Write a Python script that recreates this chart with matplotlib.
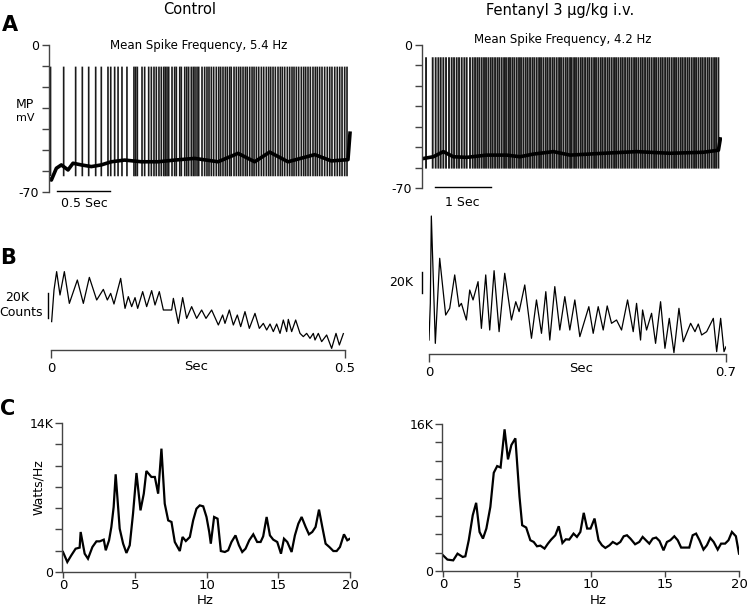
import numpy as np
import matplotlib
matplotlib.use('Agg')
import matplotlib.pyplot as plt

# ---------------- DATA ----------------
# Panel A: membrane potential traces (spike times in s, baseline samples in mV)
ctrl_spike_t = [0.005, 0.129, 0.242, 0.305, 0.365, 0.431, 0.484, 0.547, 0.573, 0.610, 0.642,
                0.679, 0.726, 0.792, 0.808, 0.824, 0.868, 0.893, 0.931, 0.956, 0.981,
                1.003, 1.028, 1.050, 1.073, 1.088, 1.104, 1.120, 1.151, 1.176, 1.192,
                1.224, 1.239, 1.271, 1.290, 1.308, 1.333, 1.352, 1.368, 1.387, 1.403,
                1.434, 1.459, 1.481, 1.500, 1.522, 1.544, 1.569, 1.592, 1.610, 1.632,
                1.654, 1.673, 1.695, 1.710, 1.736, 1.758, 1.780, 1.799, 1.821, 1.843,
                1.861, 1.884, 1.906, 1.925, 1.947, 1.969, 1.994, 2.016, 2.041, 2.063,
                2.082, 2.104, 2.126, 2.151, 2.173, 2.192, 2.214, 2.239, 2.261, 2.283,
                2.302, 2.324, 2.346, 2.371, 2.393, 2.412, 2.434, 2.456, 2.481, 2.503,
                2.522, 2.544, 2.566, 2.591, 2.616, 2.639, 2.660, 2.686, 2.710, 2.733,
                2.755, 2.780, 2.802]
ctrl_peak = -10.3
ctrl_trough = -62.5
ctrl_base_t = [0.0, 0.013, 0.060, 0.107, 0.170, 0.217, 0.296, 0.390, 0.484, 0.579, 0.704,
               0.862, 1.019, 1.176, 1.365, 1.585, 1.774, 1.931, 2.072, 2.245, 2.497,
               2.654, 2.811, 2.830]
ctrl_base_v = [-64.0, -64.3, -58.7, -57.1, -59.5, -56.3, -57.1, -57.9, -57.1, -55.6, -54.8,
               -55.6, -55.6, -54.8, -54.0, -55.6, -51.6, -55.6, -51.0, -55.6, -52.2,
               -55.2, -54.6, -42.0]

fent_spike_t = [0.036, 0.155, 0.208, 0.256, 0.298, 0.345, 0.393, 0.446, 0.494, 0.536,
                0.583, 0.625, 0.673, 0.720, 0.762, 0.821, 0.869, 0.911, 0.952, 0.988,
                1.030, 1.071, 1.107, 1.149, 1.190, 1.226, 1.268, 1.310, 1.345, 1.387,
                1.429, 1.464, 1.506, 1.536, 1.577, 1.613, 1.655, 1.696, 1.732, 1.774,
                1.815, 1.851, 1.893, 1.935, 1.970, 2.012, 2.054, 2.089, 2.131, 2.173,
                2.208, 2.250, 2.292, 2.327, 2.369, 2.411, 2.446, 2.488, 2.530, 2.565,
                2.607, 2.637, 2.679, 2.714, 2.756, 2.798, 2.833, 2.875, 2.917, 2.952,
                2.994, 3.036, 3.071, 3.113, 3.155, 3.190, 3.232, 3.274, 3.310, 3.351,
                3.393, 3.429, 3.470, 3.512, 3.548, 3.589, 3.631, 3.667, 3.708, 3.750,
                3.786, 3.827, 3.869, 3.905, 3.946, 3.988, 4.024, 4.065, 4.107, 4.143,
                4.185, 4.226, 4.262, 4.304, 4.345, 4.381, 4.423, 4.464, 4.500, 4.542,
                4.583, 4.619, 4.661, 4.702, 4.738, 4.780, 4.821, 4.857, 4.899, 4.940,
                4.976, 5.018, 5.060, 5.095, 5.137, 5.179, 5.214, 5.256]
fent_peak = -6.0
fent_trough = -60.5
fent_base_t = [0.0, 0.167, 0.345, 0.524, 0.762, 1.119, 1.476, 1.714, 1.952, 2.310, 2.607,
               3.202, 3.798, 4.393, 4.988, 5.256, 5.290]
fent_base_v = [-55.5, -54.7, -52.2, -54.7, -55.0, -53.9, -53.9, -54.7, -53.4, -52.2, -53.9,
               -53.0, -52.2, -53.0, -52.5, -51.5, -46.0]

# Panel B: autocorrelograms (time in s, counts in K above axis line)
ctrl_ac_t = [0.0011, 0.0051, 0.0096, 0.0153, 0.0227, 0.0312, 0.0448, 0.0550, 0.0652, 0.0777,
             0.0890, 0.0958, 0.1015, 0.1071, 0.1185, 0.1259, 0.1315, 0.1372, 0.1429, 0.1474,
             0.1559, 0.1627, 0.1712, 0.1769, 0.1842, 0.1911, 0.2052, 0.2081, 0.2166, 0.2239,
             0.2307, 0.2392, 0.2477, 0.2562, 0.2636, 0.2732, 0.2846, 0.2919, 0.2959, 0.3033,
             0.3101, 0.3169, 0.3226, 0.3299, 0.3373, 0.3469, 0.3543, 0.3611, 0.3668, 0.3725,
             0.3781, 0.3838, 0.3895, 0.3951, 0.4008, 0.4036, 0.4093, 0.4161, 0.4235, 0.4291,
             0.4348, 0.4405, 0.4461, 0.4490, 0.4546, 0.4603, 0.4688, 0.4773, 0.4847, 0.4904,
             0.4972]
ctrl_ac_k = [22.7, 48.0, 62.7, 44.0, 62.7, 37.3, 56.0, 37.3, 58.1, 40.0,
             48.5, 40.0, 45.3, 36.8, 57.3, 33.3, 42.7, 34.7, 41.9, 33.3,
             46.7, 34.7, 47.5, 36.0, 46.7, 32.0, 32.0, 41.3, 21.3, 41.9,
             25.3, 34.7, 25.3, 32.0, 25.3, 32.0, 20.0, 28.0, 21.3, 32.0,
             20.0, 28.0, 18.7, 30.7, 17.3, 29.3, 17.3, 21.3, 16.0, 20.8,
             14.7, 20.8, 13.3, 24.0, 14.7, 24.5, 14.7, 24.0, 13.3, 10.7,
             13.3, 9.3, 13.3, 8.0, 13.3, 6.7, 12.0, 1.3, 13.3, 4.0,
             13.1]

fent_ac_t = [0.0000, 0.0031, 0.0055, 0.0149, 0.0252, 0.0393, 0.0488, 0.0606, 0.0708, 0.0763,
             0.0881, 0.0960, 0.1038, 0.1156, 0.1235, 0.1337, 0.1431, 0.1534, 0.1652, 0.1785,
             0.1943, 0.2045, 0.2124, 0.2257, 0.2415, 0.2533, 0.2651, 0.2753, 0.2847, 0.2965,
             0.3083, 0.3201, 0.3319, 0.3437, 0.3555, 0.3767, 0.3870, 0.3988, 0.4106, 0.4200,
             0.4302, 0.4420, 0.4538, 0.4680, 0.4813, 0.4892, 0.4986, 0.5034, 0.5128, 0.5246,
             0.5340, 0.5458, 0.5561, 0.5663, 0.5773, 0.5891, 0.5993, 0.6166, 0.6269, 0.6347,
             0.6426, 0.6544, 0.6701, 0.6780, 0.6874, 0.6953, 0.7000]
fent_ac_k = [13.5, 49.0, 133.5, 10.3, 92.6, 37.7, 44.2, 76.5, 45.8, 49.0,
             32.9, 61.9, 52.3, 70.0, 24.8, 76.5, 23.2, 80.6, 21.6, 78.1,
             32.9, 50.6, 41.0, 66.8, 15.2, 52.3, 20.0, 60.3, 13.5, 65.2,
             23.2, 55.5, 23.2, 52.3, 16.8, 45.8, 20.0, 45.8, 23.2, 46.5,
             29.7, 32.9, 23.2, 52.3, 21.6, 49.0, 13.5, 42.6, 23.2, 39.4,
             10.3, 50.6, 5.5, 34.5, 1.3, 44.2, 11.9, 29.7, 21.6, 29.0,
             18.4, 21.6, 34.5, 2.3, 34.5, 2.3, 7.1]

# Panel C: power spectra (Hz, power in K Watts/Hz)
ctrl_hz = [0.00, 0.30, 0.58, 0.88, 1.16, 1.23, 1.51, 1.74, 2.05, 2.33, 2.56, 2.84, 2.98,
           3.21, 3.37, 3.53, 3.67, 3.84, 3.95, 4.19, 4.42, 4.65, 4.88, 5.12, 5.40, 5.63,
           5.81, 6.16, 6.40, 6.63, 6.86, 7.09, 7.33, 7.56, 7.79, 8.14, 8.33, 8.56, 8.84,
           9.07, 9.30, 9.53, 9.77, 10.00, 10.19, 10.30, 10.53, 10.77, 11.00, 11.28, 11.51,
           11.74, 12.02, 12.26, 12.49, 12.72, 12.98, 13.26, 13.53, 13.77, 13.95, 14.19,
           14.42, 14.65, 14.93, 15.19, 15.40, 15.63, 15.93, 16.16, 16.40, 16.63, 16.91,
           17.14, 17.37, 17.60, 17.84, 18.07, 18.30, 18.56, 18.84, 19.07, 19.30, 19.58,
           19.81, 20.00]
ctrl_pow = [1.88, 0.94, 1.57, 2.19, 2.29, 3.76, 1.72, 1.25, 2.35, 2.88, 2.88, 3.04, 2.04,
            2.98, 4.23, 6.11, 9.18, 6.11, 4.07, 2.66, 1.79, 2.51, 5.48, 9.30, 5.79, 7.36,
            9.49, 8.93, 8.93, 7.36, 11.59, 6.42, 4.85, 4.70, 2.82, 1.97, 3.29, 2.91, 3.29,
            4.85, 5.95, 6.26, 6.17, 5.17, 3.76, 2.66, 5.17, 5.01, 1.97, 1.88, 2.04,
            2.82, 3.44, 2.51, 1.88, 2.19, 2.98, 3.54, 2.82, 2.82, 3.35, 5.17,
            3.44, 3.04, 2.82, 1.72, 3.13, 2.82, 1.88, 3.44, 4.54, 5.17, 4.23,
            3.54, 3.76, 4.23, 5.86, 4.23, 2.66, 2.35, 1.97, 1.97, 2.35, 3.54,
            2.98, 3.13]

fent_hz = [0.00, 0.30, 0.69, 0.98, 1.33, 1.51, 1.74, 2.01, 2.24, 2.47, 2.70, 2.93, 3.20,
           3.43, 3.66, 3.89, 4.16, 4.39, 4.62, 4.89, 5.17, 5.35, 5.62, 5.90, 6.13, 6.35,
           6.58, 6.86, 7.09, 7.31, 7.59, 7.82, 8.07, 8.30, 8.53, 8.82, 9.05, 9.28, 9.51,
           9.74, 9.97, 10.24, 10.51, 10.74, 10.97, 11.25, 11.47, 11.75, 11.98, 12.21, 12.43,
           12.66, 12.98, 13.26, 13.49, 13.71, 13.94, 14.17, 14.40, 14.63, 14.90, 15.13,
           15.36, 15.63, 15.86, 16.09, 16.37, 16.64, 16.87, 17.10, 17.33, 17.60, 17.83,
           18.06, 18.29, 18.56, 18.79, 19.06, 19.29, 19.52, 19.79, 20.00]
fent_pow = [1.71, 1.24, 1.16, 1.89, 1.53, 1.60, 3.35, 6.07, 7.42, 4.25, 3.53, 4.62, 6.98,
            10.69, 11.42, 11.27, 15.42, 12.15, 13.71, 14.44, 8.07, 4.98, 4.73, 3.35, 3.16, 2.69,
            2.76, 2.44, 2.98, 3.42, 3.89, 4.87, 3.05, 3.45, 3.42, 4.07, 3.71, 4.25, 6.33,
            4.62, 4.62, 5.71, 3.35, 2.80, 2.51, 2.80, 3.16, 2.91, 3.16, 3.78, 3.89,
            3.53, 2.91, 3.16, 3.71, 3.35, 2.98, 3.53, 3.64, 3.27, 2.25, 3.16,
            3.35, 3.78, 3.35, 2.55, 2.55, 2.55, 3.89, 4.07, 3.35, 2.33, 2.80,
            3.60, 3.16, 2.33, 2.98, 2.98, 3.35, 4.25, 3.78, 1.89]

col_titles = ["Control", "Fentanyl 3 \u03bcg/kg i.v."]
freq_labels = ["Mean Spike Frequency, 5.4 Hz", "Mean Spike Frequency, 4.2 Hz"]
a_yticks = [-70, -60, -50, -40, -30, -20, -10, 0]
a_yticklabels = ["-70", "", "", "", "", "", "", "0"]
c_xticks = [0, 5, 10, 15, 20]
c_left_yticks = [0, 2, 4, 6, 8, 10, 12, 14]
c_left_yticklabels = ["0", "", "", "", "", "", "", "14K"]
c_right_yticks = [0, 2, 4, 6, 8, 10, 12, 14, 16]
c_right_yticklabels = ["0", "", "", "", "", "", "", "", "16K"]

# ---------------- FIGURE ----------------
W, H = 750, 607
fig = plt.figure(figsize=(W / 100, H / 100), dpi=100)
AX_COL = '#444444'
FS = 9


def add_ax(x0, y0, x1, y1):
    return fig.add_axes([x0 / W, 1 - y1 / H, (x1 - x0) / W, (y1 - y0) / H])


def ftext(x, y, s, **kw):
    kw.setdefault('ha', 'center')
    kw.setdefault('va', 'center')
    kw.setdefault('fontsize', FS)
    fig.text(x / W, 1 - y / H, s, **kw)


def clean(ax, keep):
    for side in ['left', 'right', 'top', 'bottom']:
        ax.spines[side].set_visible(side in keep)
        ax.spines[side].set_color(AX_COL)
        ax.spines[side].set_linewidth(1.0)
    ax.patch.set_alpha(0)
    ax.tick_params(colors=AX_COL, labelcolor='black', direction='out', length=5, width=1,
                   labelsize=FS)


# ---- Panel A ----
def panel_a(box, xlim, spikes, peak, trough, bt, bv, bar, bar_label, bar_label_xy, lw):
    ax = add_ax(*box)
    clean(ax, ['left'])
    ax.set_xlim(*xlim)
    ax.set_ylim(-70, 0)
    ax.set_xticks([])
    ax.set_yticks(a_yticks)
    ax.set_yticklabels(a_yticklabels)
    ax.tick_params(axis='y', pad=2)
    ax.vlines(spikes, trough, peak, color='#1a1a1a', lw=lw, snap=False)
    ax.plot(bt, bv, color='black', lw=2.6)
    ax.plot(bar, [-69.5, -69.5], color='black', lw=1, clip_on=False)
    ftext(*bar_label_xy, bar_label)
    return ax


panel_a((49, 45, 352, 192), (-0.0094, 2.849), ctrl_spike_t, ctrl_peak, ctrl_trough,
        ctrl_base_t, ctrl_base_v, [0.066, 0.566], "0.5 Sec", (84, 203), 1.2)
panel_a((422, 45, 722, 188), (-0.036, 5.32), fent_spike_t, fent_peak, fent_trough,
        fent_base_t, fent_base_v, [0.196, 1.196], "1 Sec", (462, 202), 1.35)

ftext(190, 9, col_titles[0], fontsize=10.5)
ftext(560, 10, col_titles[1], fontsize=10.5)
ftext(199, 45, freq_labels[0], fontsize=8.5)
ftext(563, 40, freq_labels[1], fontsize=8.5)
ftext(25, 104, "MP", fontsize=9)
ftext(25, 118, "mV", fontsize=8)

# ---- Panel B ----
axb1 = add_ax(51, 205, 345, 350)
clean(axb1, ['bottom'])
axb1.set_xlim(0, 0.5)
axb1.set_ylim(0, 145 / 25 * 20)
axb1.set_yticks([])
axb1.set_xticks([0, 0.5])
axb1.set_xticklabels(["0", "0.5"])
axb1.tick_params(axis='x', length=6, pad=3, labelsize=9.5)
axb1.plot(ctrl_ac_t, ctrl_ac_k, color='black', lw=0.9)
axb1.plot([-0.0051, -0.0051], [25.6, 45.6], color='black', lw=1, clip_on=False)
ftext(196, 367, "Sec", fontsize=9.5)
ftext(17, 297, "20K", fontsize=9)
ftext(21, 312, "Counts", fontsize=9)

axb2 = add_ax(429, 205, 726, 354)
clean(axb2, ['bottom'])
axb2.set_xlim(0, 0.7)
axb2.set_ylim(0, 149 / 20.67 * 20)
axb2.set_yticks([])
axb2.set_xticks([0, 0.7])
axb2.set_xticklabels(["0", "0.7"])
axb2.tick_params(axis='x', length=6, pad=3, labelsize=9.5)
axb2.plot(fent_ac_t, fent_ac_k, color='black', lw=0.9)
axb2.plot([-0.0165, -0.0165], [59.0, 79.0], color='black', lw=1, clip_on=False)
ftext(581, 369, "Sec", fontsize=9.5)
ftext(401, 282, "20K", fontsize=9)

# ---- Panel C ----
def panel_c(box, hz, pw, ymax, yticks, ylabels):
    ax = add_ax(*box)
    clean(ax, ['left', 'bottom'])
    ax.set_xlim(0, 20)
    ax.set_ylim(0, ymax)
    ax.spines['left'].set_position(('outward', 1))
    ax.set_xticks(c_xticks)
    ax.set_xticklabels([str(v) for v in c_xticks])
    ax.set_yticks(yticks)
    ax.set_yticklabels(ylabels)
    ax.tick_params(axis='x', length=4, pad=1, labelsize=9.5)
    ax.tick_params(axis='y', length=5, pad=1, labelsize=9)
    ax.plot(hz, pw, color='black', lw=1.6, solid_joinstyle='miter')
    return ax


panel_c((63, 423, 350, 572), ctrl_hz, ctrl_pow, 14, c_left_yticks, c_left_yticklabels)
panel_c((443, 424, 739, 571), fent_hz, fent_pow, 16, c_right_yticks, c_right_yticklabels)
ftext(205, 601, "Hz", fontsize=9.5)
ftext(598, 601, "Hz", fontsize=9.5)
ftext(39, 487, "Watts/Hz", fontsize=9, rotation=90)

# panel letters
ftext(10, 25, "A", fontsize=15, fontweight='bold')
ftext(8, 258, "B", fontsize=15, fontweight='bold')
ftext(8, 409, "C", fontsize=15, fontweight='bold')

fig.savefig("out.png", dpi=100)
